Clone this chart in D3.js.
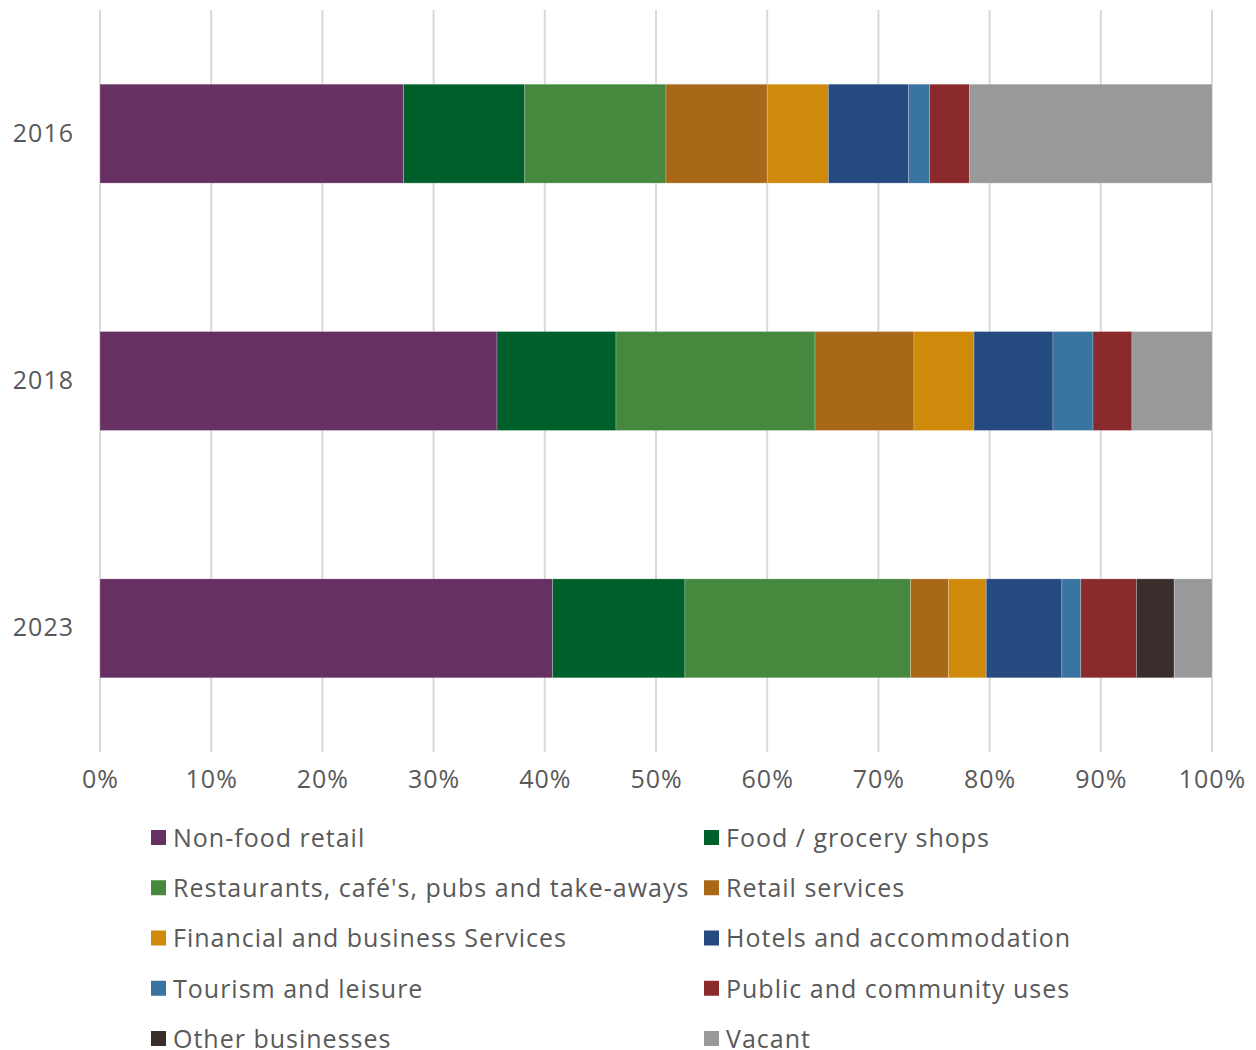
<!DOCTYPE html>
<html>
<head>
<meta charset="utf-8">
<script src="https://cdn.jsdelivr.net/npm/d3@7"></script>
<style>
  html, body { margin: 0; padding: 0; background: #ffffff; }
  svg { display: block; font-family: "Open Sans", "Lato", sans-serif; }
</style>
</head>
<body>
<svg id="chart" width="1256" height="1050"></svg>
<script>
// Town centre unit mix by survey year (% of units)
const years = ["2016", "2018", "2023"];
const categories = [
  "Non-food retail",
  "Food / grocery shops",
  "Restaurants, café's, pubs and take-aways",
  "Retail services",
  "Financial and business Services",
  "Hotels and accommodation",
  "Tourism and leisure",
  "Public and community uses",
  "Other businesses",
  "Vacant"
];
const colors = [
  "#673063", "#00602B", "#46893E", "#A96818", "#CF8A0C",
  "#254A7F", "#38749F", "#8A2A2D", "#3A2E2D", "#98999B"
];
// one row per category, one value per year
const nonFood     = [27.3, 35.7, 40.7];
const foodGrocery = [10.9, 10.7, 11.9];
const restaurants = [12.7, 17.9, 20.3];
const retailServ  = [9.1, 8.9, 3.4];
const financial   = [5.5, 5.4, 3.4];
const hotels      = [7.2, 7.1, 6.8];
const tourism     = [1.9, 3.6, 1.7];
const publicUses  = [3.6, 3.5, 5.0];
const otherBiz    = [0, 0, 3.4];
const vacant      = [21.8, 7.2, 3.4];
const seriesValues = [nonFood, foodGrocery, restaurants, retailServ, financial,
                      hotels, tourism, publicUses, otherBiz, vacant];
const xTicks = [0, 10, 20, 30, 40, 50, 60, 70, 80, 90, 100];

const textColor = "#595959";
const fontSize = 25;
const spacing = "1px";
const svg = d3.select("#chart");

const x = d3.scaleLinear().domain([0, 100]).range([100, 1212]);
const y = d3.scaleBand().domain(years).range([10, 752])
  .paddingInner(0.6).paddingOuter(0.3);

// table for stacking
const rows = years.map((yr, i) => {
  const r = { year: yr };
  categories.forEach((c, k) => { r[c] = seriesValues[k][i]; });
  return r;
});
const stacked = d3.stack().keys(categories)(rows);

// vertical gridlines
svg.append("g").selectAll("line").data(xTicks).join("line")
  .attr("x1", d => x(d)).attr("x2", d => x(d))
  .attr("y1", 10).attr("y2", 752)
  .attr("stroke", "#d9d9d9").attr("stroke-width", 2);

// stacked bars
svg.append("g").selectAll("g").data(stacked).join("g")
  .attr("fill", (d, i) => colors[i])
  .selectAll("rect").data(d => d).join("rect")
  .attr("x", d => x(d[0]))
  .attr("width", d => Math.max(0, x(d[1]) - x(d[0])))
  .attr("y", d => y(d.data.year))
  .attr("height", y.bandwidth())
  .attr("stroke", "rgba(255,255,255,0.3)")
  .attr("stroke-width", 0.75);

// x axis labels
const xAxis = d3.axisBottom(x).tickValues(xTicks).tickFormat(d => d + "%").tickSize(0).tickPadding(0);
const gx = svg.append("g").attr("transform", "translate(0,770)").call(xAxis);
gx.select(".domain").remove();
gx.selectAll("text").attr("fill", textColor).attr("font-size", fontSize)
  .attr("font-family", "'Open Sans', sans-serif").attr("letter-spacing", spacing);

// y axis labels
const yAxis = d3.axisLeft(y).tickSize(0).tickPadding(0);
const gy = svg.append("g").attr("transform", "translate(74,0)").call(yAxis);
gy.select(".domain").remove();
gy.selectAll("text").attr("fill", textColor).attr("font-size", fontSize)
  .attr("font-family", "'Open Sans', sans-serif").attr("letter-spacing", spacing);

// legend, two columns
const legendCols = [151, 704];
const legend = svg.append("g").selectAll("g").data(categories).join("g")
  .attr("transform", (d, i) => `translate(${legendCols[i % 2]},${838 + Math.floor(i / 2) * 50.25})`);
legend.append("rect")
  .attr("x", 0).attr("y", -8).attr("width", 15).attr("height", 15)
  .attr("fill", (d, i) => colors[i]);
legend.append("text")
  .attr("x", 22).attr("y", 0).attr("dy", "0.35em")
  .attr("font-size", fontSize).attr("fill", textColor)
  .attr("letter-spacing", spacing)
  .text(d => d);
</script>
</body>
</html>
